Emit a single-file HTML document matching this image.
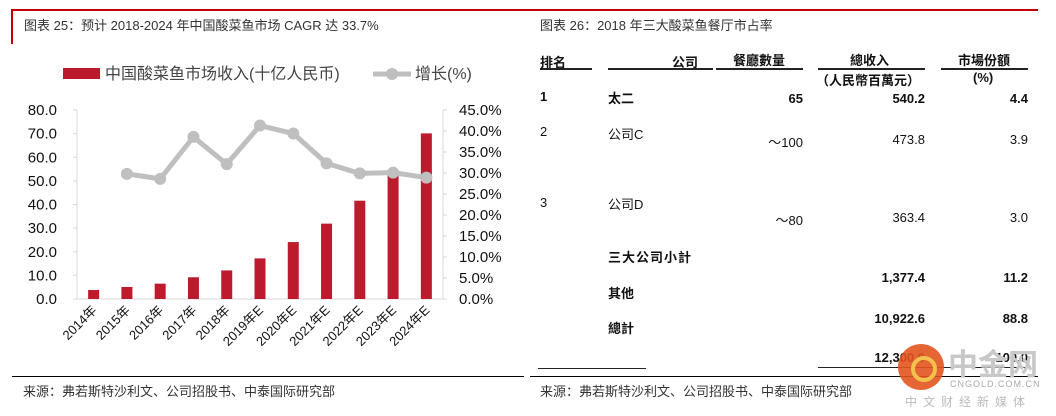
<!DOCTYPE html>
<html><head><meta charset="utf-8">
<style>
body{margin:0;width:1056px;height:416px;background:#fff;position:relative;overflow:hidden;font-family:"Liberation Sans","Noto Sans CJK SC",sans-serif;}
.a{position:absolute;white-space:nowrap;}
.t{font-size:13px;color:#111;}
.b{font-weight:bold;}
.r{text-align:right;}
</style></head><body>
<div class="a" style="left:11px;top:9px;width:519px;height:2px;background:#c00000"></div>
<div class="a" style="left:11px;top:9px;width:2px;height:35px;background:#c00000"></div>
<div class="a" style="left:24px;top:15px;font-size:13px;color:#333">图表 25：预计 2018-2024 年中国酸菜鱼市场 CAGR 达 33.7%</div>
<div class="a" style="left:12px;top:376px;width:512px;height:1px;background:#000"></div>
<div class="a" style="left:23px;top:381px;font-size:13px;color:#333">来源：弗若斯特沙利文、公司招股书、中泰国际研究部</div>

<svg class="a" style="left:0;top:0" width="530" height="376" id="chart">
<g>
<rect x="63" y="68" width="37" height="11" fill="#be1a2e"/>
<text x="105" y="79" font-size="16" fill="#444" font-family="Liberation Sans,Noto Sans CJK SC,sans-serif">中国酸菜鱼市场收入(十亿人民币)</text>
<line x1="373" y1="74" x2="411" y2="74" stroke="#bfbfbf" stroke-width="5"/>
<circle cx="392" cy="74" r="6" fill="#bfbfbf"/>
<text x="415" y="79" font-size="16" fill="#444" font-family="Liberation Sans,Noto Sans CJK SC,sans-serif">增长(%)</text>
</g>
<g id="plot"></g>
</svg>

<div class="a" style="left:530px;top:9px;width:508px;height:2px;background:#c00000"></div>
<div class="a" style="left:540px;top:15px;font-size:13px;color:#333">图表 26：2018 年三大酸菜鱼餐厅市占率</div>
<div>
<div class="a t b" style="left:540px;top:52px">排名</div>
<div class="a t b r" style="left:608px;top:52px;width:90px">公司</div>
<div class="a t b" style="left:733px;top:50px">餐廳數量</div>
<div class="a t b" style="left:850px;top:50px">總收入</div>
<div class="a t b" style="left:816px;top:70px">（人民幣百萬元）</div>
<div class="a t b" style="left:958px;top:50px">市場份額</div>
<div class="a t b" style="left:973px;top:70px">(%)</div>
<div class="a" style="left:540px;top:68px;width:52px;height:2px;background:#222"></div>
<div class="a" style="left:608px;top:68px;width:105px;height:2px;background:#222"></div>
<div class="a" style="left:716px;top:68px;width:87px;height:2px;background:#222"></div>
<div class="a" style="left:818px;top:68px;width:107px;height:2px;background:#222"></div>
<div class="a" style="left:941px;top:68px;width:87px;height:2px;background:#222"></div>

<div class="a t b" style="left:540px;top:89px">1</div>
<div class="a t b" style="left:608px;top:88px">太二</div>
<div class="a t b r" style="left:703px;top:91px;width:100px">65</div>
<div class="a t b r" style="left:825px;top:91px;width:100px">540.2</div>
<div class="a t b r" style="left:928px;top:91px;width:100px">4.4</div>

<div class="a t" style="left:540px;top:124px">2</div>
<div class="a t" style="left:608px;top:124px">公司C</div>
<div class="a t r" style="left:703px;top:132px;width:100px">～100</div>
<div class="a t r" style="left:825px;top:132px;width:100px">473.8</div>
<div class="a t r" style="left:928px;top:132px;width:100px">3.9</div>

<div class="a t" style="left:540px;top:195px">3</div>
<div class="a t" style="left:608px;top:194px">公司D</div>
<div class="a t r" style="left:703px;top:210px;width:100px">～80</div>
<div class="a t r" style="left:825px;top:210px;width:100px">363.4</div>
<div class="a t r" style="left:928px;top:210px;width:100px">3.0</div>

<div class="a t b" style="left:608px;top:247px;letter-spacing:1px">三大公司小計</div>
<div class="a t b r" style="left:825px;top:270px;width:100px">1,377.4</div>
<div class="a t b r" style="left:928px;top:270px;width:100px">11.2</div>
<div class="a t b" style="left:608px;top:283px">其他</div>
<div class="a t b r" style="left:825px;top:311px;width:100px">10,922.6</div>
<div class="a t b r" style="left:928px;top:311px;width:100px">88.8</div>
<div class="a t b" style="left:608px;top:318px">總計</div>
<div class="a t b r" style="left:825px;top:350px;width:100px">12,300.0</div>
<div class="a t b r" style="left:928px;top:350px;width:100px">100.0</div>
<div class="a" style="left:538px;top:368px;width:108px;height:1px;background:#222"></div>
<div class="a" style="left:818px;top:367px;width:210px;height:1px;background:#222"></div>
</div>
<div class="a" style="left:530px;top:376px;width:508px;height:1px;background:#000"></div>
<div class="a" style="left:540px;top:381px;font-size:13px;color:#333">来源：弗若斯特沙利文、公司招股书、中泰国际研究部</div>

<div>
<div class="a" style="left:898px;top:344px;width:46px;height:46px;border-radius:50%;background:#e2541e;opacity:.9"></div>
<div class="a" style="left:911px;top:356px;width:18px;height:18px;border-radius:50%;border:4px solid #f2c14e"></div>
<div class="a" style="left:948px;top:340px;font-size:30px;font-weight:bold;color:#c8c8c8">中金网</div>
<div class="a" style="left:950px;top:379px;font-size:9px;color:#aaa;letter-spacing:1px">CNGOLD.COM.CN</div>
<div class="a" style="left:905px;top:393px;font-size:12px;color:#bbb;letter-spacing:6px">中文财经新媒体</div>
</div>

<script>
const categories = ["2014年","2015年","2016年","2017年","2018年","2019年E","2020年E","2021年E","2022年E","2023年E","2024年E"];
const revenue = [3.8,5.1,6.5,9.2,12.1,17.2,24.1,31.9,41.6,53.8,70.1];
const growth = [null,29.8,28.6,38.6,32.1,41.3,39.4,32.3,29.9,30.1,28.9];
const leftTicks = [0,10,20,30,40,50,60,70,80];
const rightTicks = [0,5,10,15,20,25,30,35,40,45];

const NS="http://www.w3.org/2000/svg";
const g=document.getElementById('plot');
const X0=77,X1=443,Y0=299,Y1=110;
const step=(X1-X0)/categories.length;
const xc=i=>X0+step*(i+0.5);
const yL=v=>Y0-(v/80)*(Y0-Y1);
const yR=v=>Y0-(v/45)*(Y0-Y1);
function mk(tag,attrs){const e=document.createElementNS(NS,tag);for(const k in attrs)e.setAttribute(k,attrs[k]);g.appendChild(e);return e;}
const FF="Liberation Sans,sans-serif";

let ax=mk('line',{x1:X0,y1:Y1,x2:X0,y2:Y0,stroke:'#d9d9d9'});


ax=mk('line',{x1:X0-4,y1:Y0,x2:X1,y2:Y0,stroke:'#d9d9d9'});


ax=mk('line',{x1:X1,y1:Y1,x2:X1,y2:Y0,stroke:'#d9d9d9'});



leftTicks.forEach(v=>{
  mk('line',{x1:X0-4,x2:X0,y1:yL(v),y2:yL(v),stroke:'#d9d9d9'});
  const t=mk('text',{x:57,y:yL(v)+5,'font-size':15,fill:'#111','text-anchor':'end','font-family':FF});
  t.textContent=v.toFixed(1);
  
  
});
rightTicks.forEach(v=>{
  mk('line',{x1:X1,x2:X1+4,y1:yR(v),y2:yR(v),stroke:'#d9d9d9'});
  const t=mk('text',{x:459,y:yR(v)+5,'font-size':15,fill:'#111','font-family':FF});
  t.textContent=v.toFixed(1)+'%';
  
  
});
revenue.forEach((v,i)=>{
  const b=mk('rect',{x:xc(i)-5.5,y:yL(v),width:11,height:Y0-yL(v),fill:'#be1a2e'});
  
  
});
categories.forEach((c,i)=>{
  const x=xc(i)+4,y=Y0+12;
  const t=mk('text',{x:x,y:y,'font-size':13,fill:'#111','text-anchor':'end','font-family':'Liberation Sans,Noto Sans CJK SC,sans-serif',transform:`rotate(-45 ${x} ${y})`});
  t.textContent=c;
  
  
});
const pts=growth.map((v,i)=>v==null?null:[xc(i),yR(v)]).filter(p=>p);
const pl=mk('polyline',{points:pts.map(p=>p.join(',')).join(' '),fill:'none',stroke:'#bfbfbf','stroke-width':5,'stroke-linejoin':'round'});


growth.forEach((v,i)=>{
  if(v==null)return;
  const c=mk('circle',{cx:xc(i),cy:yR(v),r:6,fill:'#bfbfbf'});
  
  
});
</script>
</body></html>
